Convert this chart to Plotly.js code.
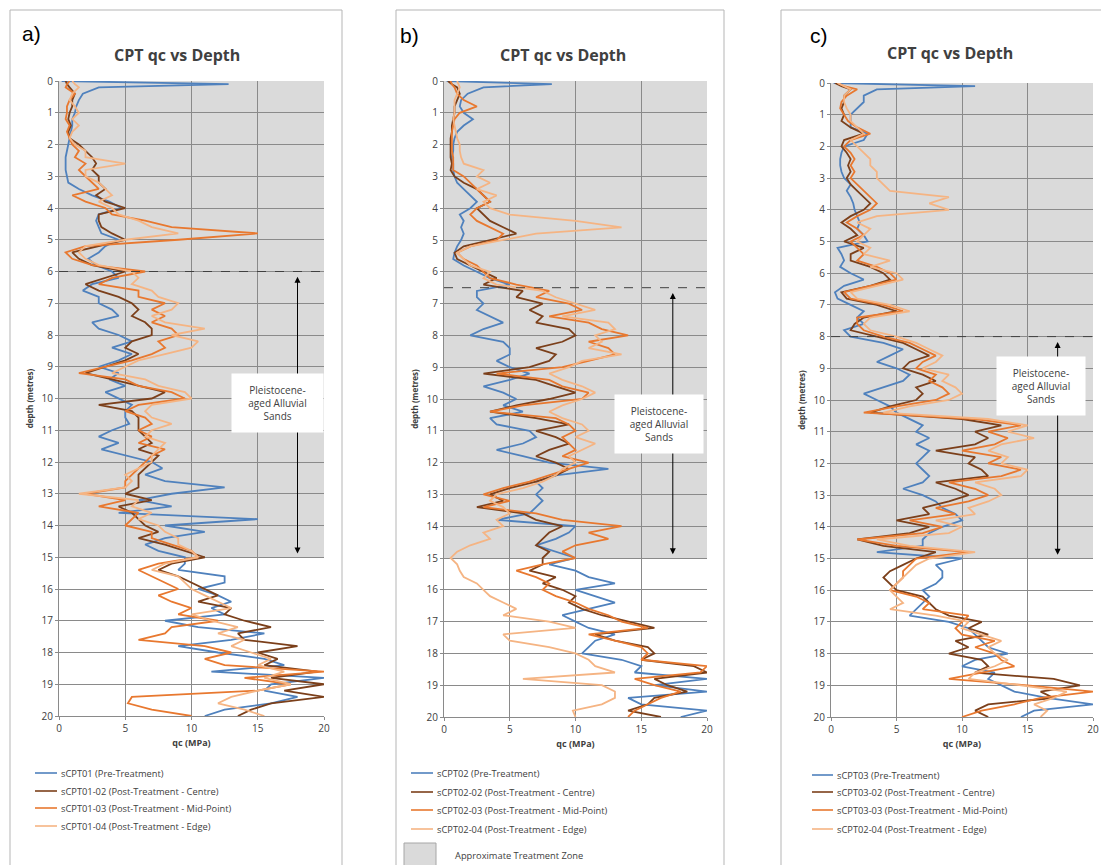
<!DOCTYPE html>
<html>
<head>
<meta charset="utf-8">
<script src="https://cdn.plot.ly/plotly-3.0.1.min.js"></script>
<style>html,body{margin:0;padding:0;background:#fff;}#chart{width:1101px;height:865px;}</style>
</head>
<body>
<div id="chart"></div>
<script>
// ---- Depth (metres), shared by all profiles ----
const depth = [0,0.1,0.2,0.4,0.6,0.8,1,1.2,1.4,1.6,1.8,
  2,2.2,2.4,2.6,2.8,3,3.2,3.4,3.6,3.8,
  4,4.2,4.4,4.6,4.8,5,5.2,5.4,5.6,5.8,
  6,6.2,6.4,6.6,6.8,7,7.2,7.4,7.6,7.8,
  8,8.2,8.4,8.6,8.8,9,9.2,9.4,9.6,9.8,
  10,10.2,10.4,10.6,10.8,11,11.2,11.4,11.6,11.8,
  12,12.2,12.4,12.6,12.8,13,13.2,13.4,13.6,13.8,
  14,14.2,14.4,14.6,14.8,15,15.2,15.4,15.6,15.8,
  16,16.2,16.4,16.6,16.8,17,17.2,17.4,17.6,17.8,
  18,18.2,18.4,18.6,18.8,19,19.2,19.4,19.6,19.8,
  20];

// ---- Panel a) qc (MPa) ----
const a_pre = [0.2,12.8,3.0,1.8,1.5,1.3,1.2,1.0,1.0,0.9,0.8,
  0.7,0.6,0.5,0.5,0.5,0.6,0.7,1.5,2.5,3.8,
  4.7,3.0,2.8,3.0,3.2,4.5,3.5,3.0,2.2,2.8,
  4.0,4.5,2.5,1.8,3.0,3.0,4.0,4.5,2.5,3.0,
  4.5,5.5,4.0,5.5,4.5,3.0,4.5,3.8,5.0,3.5,
  4.5,5.5,5.0,5.0,5.3,4.0,3.0,4.5,3.2,5.0,
  7.0,7.8,6.5,8.0,12.5,8.5,6.0,8.5,4.5,15.0,
  8.0,11.0,8.0,6.5,7.5,9.5,9.5,9.0,12.5,12.5,
  10.5,12.0,13.0,11.5,12.5,8.0,10.5,15.5,13.0,9.0,
  12.0,15.5,17.0,11.5,20.0,16.0,15.5,18.0,16.0,12.5,
  11.0];
const a_centre = [0.5,0.6,0.8,1.2,1.0,1.0,0.8,0.7,0.9,0.7,0.8,
  1.5,2.0,2.5,2.8,2.5,3.0,3.0,3.5,2.8,3.5,
  5.0,3.0,3.0,3.2,4.0,5.0,3.0,1.0,1.5,2.5,
  5.0,3.5,2.0,3.0,4.5,5.5,6.0,5.5,6.5,7.0,
  7.0,5.5,5.0,6.0,5.0,3.5,2.0,4.0,6.0,8.0,
  7.0,3.0,5.5,6.0,6.0,6.0,6.5,7.0,6.0,7.5,
  7.0,6.5,6.0,6.0,6.0,5.0,7.0,4.5,5.5,6.0,
  6.5,7.5,6.0,8.0,9.5,11.0,8.5,7.5,9.0,10.0,
  11.0,12.0,10.5,13.0,12.5,14.0,16.0,13.5,14.0,18.0,
  15.0,16.5,15.5,19.5,16.0,20.0,17.0,20.0,16.0,14.5,
  13.5];
const a_mid = [0.8,0.6,0.5,1.2,0.8,0.6,0.6,0.5,0.8,0.6,0.8,
  1.0,1.5,1.2,2.0,1.5,2.0,2.5,3.0,1.0,2.0,
  3.5,4.0,6.5,8.5,15.0,9.0,2.0,0.5,1.0,2.5,
  6.5,4.0,3.0,6.0,6.0,8.0,7.0,8.0,7.0,8.5,
  9.0,7.5,8.0,7.0,5.5,3.5,1.5,5.0,6.0,8.5,
  9.5,6.0,5.0,6.5,7.0,6.0,7.0,6.0,8.0,7.0,
  6.5,6.0,5.5,5.0,5.0,2.0,5.0,3.0,6.0,5.5,
  5.0,7.0,7.0,8.5,10.0,10.5,7.5,6.0,7.0,8.0,
  9.0,7.5,8.5,10.0,9.0,12.0,8.5,8.0,6.0,11.0,
  13.0,11.0,12.5,20.0,14.0,17.5,15.0,5.5,5.2,7.0,
  10.0];
const a_edge = [1.0,1.2,1.5,1.0,0.8,1.2,1.5,1.0,1.5,1.0,0.8,
  1.2,2.0,2.0,5.0,2.0,2.0,3.0,3.5,4.0,3.0,
  4.0,4.5,6.0,7.0,9.0,5.0,2.0,1.5,2.0,3.0,
  5.5,6.0,5.5,7.0,7.5,9.0,8.5,7.0,8.0,11.0,
  8.5,10.5,10.0,8.0,6.0,5.0,4.0,6.5,7.5,9.5,
  10.0,7.0,6.5,7.0,8.5,7.0,6.5,8.0,7.5,7.0,
  7.0,6.0,5.0,5.5,5.0,1.5,6.0,5.5,7.0,6.0,
  7.5,8.0,9.0,9.0,10.0,10.5,8.0,7.0,9.0,9.5,
  10.0,11.0,12.0,13.0,10.0,11.5,13.5,12.0,14.0,13.0,
  14.5,16.0,15.0,17.0,15.5,17.5,15.0,13.0,12.0,14.0,
  15.5];

// ---- Panel b) qc (MPa) ----
const b_pre = [0.2,8.2,3.0,1.8,1.3,1.2,1.5,2.2,1.5,1.0,0.8,
  0.7,0.7,0.6,0.7,0.7,0.8,1.0,1.5,2.0,2.5,
  2.0,1.2,1.5,1.3,1.5,1.3,1.0,0.8,0.7,1.5,
  2.5,3.5,5.0,2.5,2.5,3.0,2.5,3.5,4.5,3.0,
  2.0,4.5,5.0,5.0,4.0,5.0,6.5,5.0,3.0,4.5,
  5.5,4.5,6.0,3.5,4.0,6.5,7.0,6.0,4.0,6.0,
  8.0,12.5,8.5,7.0,7.5,7.0,7.5,7.0,6.5,4.0,
  10.0,9.5,8.5,7.0,8.5,10.0,8.0,10.0,11.0,13.0,
  10.0,11.5,13.0,11.0,9.0,10.0,11.0,13.0,11.5,11.0,
  10.5,13.5,15.0,14.5,20.0,16.0,20.0,14.0,15.0,20.0,
  18.0];
const b_centre = [0.3,0.6,1.0,1.2,1.0,0.8,0.8,0.7,0.6,0.6,0.5,
  0.5,0.5,0.5,0.6,0.5,0.8,1.5,2.5,3.0,3.5,
  2.5,3.0,3.5,4.5,5.5,3.5,1.5,0.8,1.0,2.0,
  3.0,4.0,3.0,6.0,5.5,7.5,6.5,7.5,7.0,9.5,
  10.0,9.0,7.0,8.5,8.0,6.5,3.0,7.0,8.5,10.0,
  8.0,5.5,3.5,7.0,9.5,7.0,8.5,9.5,8.0,7.0,
  8.5,9.5,8.5,7.0,5.0,3.5,4.5,2.5,6.0,7.0,
  9.0,8.0,7.5,7.0,8.0,7.5,7.5,6.5,8.5,7.5,
  9.0,10.0,9.5,10.5,12.0,14.0,16.0,11.5,13.0,15.5,
  16.0,15.0,19.0,20.0,16.0,17.0,18.5,16.0,15.5,14.0,
  16.5];
const b_mid = [0.5,0.6,0.8,1.0,1.5,2.5,1.2,0.8,0.7,0.6,0.6,
  0.6,0.6,0.7,0.7,0.7,1.5,2.0,2.5,3.0,3.5,
  2.5,2.0,2.5,3.5,4.5,4.0,2.0,1.0,1.5,2.5,
  3.0,3.5,5.5,8.0,7.0,9.5,10.5,8.0,11.0,12.0,
  14.0,11.0,12.5,13.0,11.0,9.0,4.0,8.0,9.0,11.0,
  10.5,6.0,3.5,8.5,9.5,10.0,9.0,9.5,10.0,9.0,
  11.0,9.5,8.0,6.5,4.5,3.0,5.0,3.0,7.0,9.0,
  13.5,11.0,12.5,10.0,9.0,10.0,7.5,5.5,7.0,8.0,
  7.5,8.5,10.0,11.0,12.5,13.5,15.5,11.0,13.0,15.0,
  15.5,15.0,20.0,19.5,14.5,16.0,18.0,16.5,15.5,14.5,
  14.0];
const b_edge = [1.0,1.1,1.2,1.0,0.8,0.8,0.8,0.7,0.8,0.9,1.0,
  1.2,1.2,1.3,1.5,3.0,2.5,3.5,2.5,4.0,3.0,
  3.5,5.0,10.0,13.5,7.0,4.5,2.0,1.0,1.5,2.0,
  3.5,3.0,4.0,7.5,8.5,10.0,11.5,9.0,12.5,13.0,
  11.5,12.0,11.0,13.5,10.5,9.5,8.0,9.0,10.5,11.5,
  10.5,9.0,8.0,9.0,10.5,11.0,10.0,11.5,10.5,9.5,
  10.0,9.0,8.5,7.5,6.0,4.0,3.5,4.5,5.0,4.0,
  4.5,3.0,3.5,2.0,1.0,0.5,1.0,1.2,1.5,2.5,
  3.0,3.5,4.5,5.5,4.5,8.0,10.0,4.5,5.0,8.0,
  10.0,11.0,11.5,13.0,6.0,12.0,13.0,13.0,12.0,9.8,
  10.0];

// ---- Panel c) qc (MPa) ----
const c_pre = [0.2,11.0,3.5,2.5,2.5,2.0,1.5,1.5,1.5,2.8,2.5,
  1.0,0.8,0.7,0.7,0.8,1.0,1.5,1.2,1.5,1.7,
  1.8,2.0,2.2,2.0,2.5,2.8,0.5,0.8,1.0,0.7,
  1.5,2.5,1.0,0.3,0.5,1.5,2.5,2.0,2.5,1.0,
  1.5,4.0,5.5,4.5,3.5,5.0,6.0,5.5,4.0,2.5,
  3.5,4.5,5.0,6.0,7.0,6.5,7.5,6.5,7.5,7.0,
  6.5,7.0,7.5,7.0,5.5,7.0,8.0,8.5,9.5,10.0,
  8.5,7.5,7.0,7.0,3.5,10.0,8.0,8.5,8.5,8.0,
  7.0,7.5,7.0,6.5,6.0,9.0,10.5,11.0,11.5,12.0,
  13.5,11.0,10.0,12.5,12.0,13.0,14.0,16.5,20.0,15.5,
  14.5];
const c_centre = [0.3,0.8,1.5,1.0,1.0,0.8,1.0,0.8,1.5,2.5,1.0,
  0.8,1.2,1.5,1.3,1.5,1.2,1.5,2.0,2.5,3.0,
  2.5,1.5,0.8,1.5,2.0,1.0,2.5,1.5,1.5,3.0,
  4.0,4.5,3.0,0.8,1.2,3.5,5.0,2.5,1.8,1.5,
  3.5,5.5,6.5,7.5,6.0,5.5,7.0,8.0,6.5,7.0,
  6.5,4.5,3.0,10.0,13.0,11.0,12.0,11.0,8.0,11.0,
  10.5,11.5,12.0,8.0,9.5,10.5,9.0,7.0,7.5,5.0,
  7.5,6.0,2.0,4.0,8.0,6.5,5.5,4.5,4.0,4.5,
  5.0,7.0,7.5,8.0,9.0,11.5,10.5,12.0,9.5,10.5,
  9.0,11.5,12.0,11.0,17.0,19.0,16.0,17.0,12.0,11.0,
  12.0];
const c_mid = [0.5,1.0,2.0,1.2,0.8,0.7,1.0,1.3,2.0,3.0,1.5,
  1.0,1.5,1.8,1.5,1.8,1.5,2.0,2.5,3.0,3.5,
  3.0,2.0,1.2,2.0,2.5,1.5,2.0,2.5,2.0,3.5,
  4.5,5.0,3.0,1.0,1.5,4.0,5.5,2.0,2.0,2.5,
  4.0,6.0,7.0,8.0,7.0,6.5,8.0,7.5,8.5,9.0,
  8.0,5.0,2.5,11.0,14.5,12.0,13.5,12.5,10.0,13.0,
  12.0,14.5,13.0,9.0,11.0,12.0,10.5,8.0,9.5,6.0,
  8.5,7.0,2.0,5.0,10.5,6.5,6.0,5.5,5.5,5.0,
  4.5,6.5,7.5,7.0,10.5,10.0,9.5,10.0,12.5,11.0,
  12.5,13.0,14.0,11.5,9.0,15.0,20.0,16.0,14.0,11.5,
  10.0];
const c_edge = [0.5,1.0,1.5,1.0,1.0,1.2,1.5,1.5,2.0,2.5,1.5,
  2.0,2.5,3.0,3.0,3.5,3.5,4.0,4.5,9.0,7.5,
  9.0,3.5,2.0,3.0,2.5,2.0,3.0,2.5,4.5,3.0,
  5.0,5.5,3.5,1.5,2.0,4.5,6.0,3.0,2.5,3.0,
  5.0,6.5,7.5,8.5,8.0,7.0,9.0,8.5,9.5,10.0,
  9.0,6.0,4.0,12.0,15.0,13.5,15.5,13.0,12.0,13.5,
  13.0,15.0,14.5,11.0,12.5,13.0,12.0,10.5,11.0,8.0,
  10.0,9.0,3.5,6.0,11.0,7.5,6.5,6.0,5.5,5.0,
  4.5,5.0,5.5,4.5,8.0,10.5,10.0,11.5,13.0,12.0,
  12.5,13.5,12.5,11.0,10.5,14.5,18.0,17.0,15.5,16.5,
  16.0];

// ---- Labels ----
const panelLabels = ['a)', 'b)', 'c)'];
const chartTitle = 'CPT qc vs Depth';
const yTitle = 'depth (metres)';
const xTitle = 'qc (MPa)';
const xTicks = [0, 5, 10, 15, 20];
const yTicks = [0,1,2,3,4,5,6,7,8,9,10,11,12,13,14,15,16,17,18,19,20];
const legendNames = [
  ['sCPT01 (Pre-Treatment)','sCPT01-02 (Post-Treatment - Centre)','sCPT01-03 (Post-Treatment - Mid-Point)','sCPT01-04 (Post-Treatment - Edge)'],
  ['sCPT02 (Pre-Treatment)','sCPT02-02 (Post-Treatment - Centre)','sCPT02-03 (Post-Treatment - Mid-Point)','sCPT02-04 (Post-Treatment - Edge)'],
  ['sCPT03 (Pre-Treatment)','sCPT03-02 (Post-Treatment - Centre)','sCPT03-03 (Post-Treatment - Mid-Point)','sCPT02-04 (Post-Treatment - Edge)']
];
const zoneLabel = 'Pleistocene-<br>aged Alluvial<br>Sands';
const treatmentZoneLabel = 'Approximate Treatment Zone';
const treatmentZoneBottom = [15, 15, 15];
const sandTop = [6, 6.5, 8];

// ---- Styling / layout (pixels) ----
const W = 1101, H = 865;
const colors = ['#4f81bd', '#7b3f1a', '#e8782f', '#f5b483'];
const panelData = [
  [a_pre, a_centre, a_mid, a_edge],
  [b_pre, b_centre, b_mid, b_edge],
  [c_pre, c_centre, c_mid, c_edge]
];
const plotPx = [
  {x0: 59, x1: 324, y0: 81, y1: 716},
  {x0: 444, x1: 707, y0: 81, y1: 717},
  {x0: 831, x1: 1093, y0: 83, y1: 717}
];
const framePx = [[10, 342], [396, 724], [781, 1110]];
const titleX = [177, 563, 950];
const labelPos = [[20, 33], [398, 35], [808, 35]];
const legendPx = [
  {lx0: 35, lx1: 57, tx: 59, ys: [773, 791, 808, 826]},
  {lx0: 411, lx1: 433, tx: 435, ys: [773, 792, 810, 829]},
  {lx0: 812, lx1: 833, tx: 835, ys: [775, 792, 810, 829]}
];
const arrowX = [18.0, 17.4, 17.3];
const boxPx = [
  {x0: 232, x1: 323, y0: 374, y1: 432},
  {x0: 615, x1: 703, y0: 395, y1: 453},
  {x0: 997, x1: 1085, y0: 357, y1: 415}
];

const px = x => x / W;
const py = y => 1 - y / H;
const FONT = 'Open Sans, Noto Sans, Liberation Sans, sans-serif';

const traces = [];
const layout = {
  width: W, height: H,
  margin: {l: 0, r: 0, t: 0, b: 0},
  paper_bgcolor: '#ffffff',
  plot_bgcolor: '#ffffff',
  showlegend: false,
  font: {family: FONT, color: '#404040'},
  shapes: [],
  annotations: []
};

panelData.forEach((series, p) => {
  const sfx = p === 0 ? '' : String(p + 1);
  const xa = 'x' + sfx, ya = 'y' + sfx;
  series.forEach((vals, i) => {
    traces.push({
      type: 'scatter', mode: 'lines',
      x: vals, y: depth,
      xaxis: xa, yaxis: ya,
      name: legendNames[p][i],
      line: {color: colors[i], width: 1.8},
      hoverinfo: 'skip'
    });
  });
  const P = plotPx[p];
  layout['xaxis' + sfx] = {
    domain: [px(P.x0), px(P.x1)], anchor: ya,
    range: [0, 20], tickvals: xTicks, ticktext: xTicks.map(String),
    showgrid: true, gridcolor: '#8a8a8a', gridwidth: 1,
    showline: true, linecolor: '#8a8a8a', zeroline: false,
    ticks: 'outside', ticklen: 3, tickcolor: '#8a8a8a',
    tickfont: {size: 10, color: '#404040', family: FONT},
    title: {text: xTitle, font: {size: 9, weight: 'bold', color: '#404040', family: FONT}, standoff: 5},
    fixedrange: true
  };
  layout['yaxis' + sfx] = {
    domain: [py(P.y1), py(P.y0)], anchor: xa,
    range: [20, 0], tickvals: yTicks, ticktext: yTicks.map(String),
    showgrid: true, gridcolor: '#8a8a8a', gridwidth: 1,
    showline: true, linecolor: '#8a8a8a', zeroline: false,
    ticks: 'outside', ticklen: 3, tickcolor: '#8a8a8a',
    tickfont: {size: 10, color: '#404040', family: FONT},
    title: {text: yTitle, font: {size: 8, weight: 'bold', color: '#404040', family: FONT}, standoff: 6},
    fixedrange: true
  };
  // Frame around the panel
  layout.shapes.push({type: 'rect', xref: 'paper', yref: 'paper',
    x0: px(framePx[p][0]), x1: px(framePx[p][1]), y0: -0.02, y1: py(10),
    line: {color: '#b5b5b5', width: 1}, fillcolor: 'rgba(0,0,0,0)', layer: 'below'});
  // Approximate treatment zone (grey)
  layout.shapes.push({type: 'rect', xref: xa, yref: ya,
    x0: 0, x1: 20, y0: 0, y1: treatmentZoneBottom[p],
    fillcolor: '#dadada', line: {width: 0}, layer: 'below'});
  // Dashed line at top of sands
  layout.shapes.push({type: 'line', xref: xa, yref: ya,
    x0: 0, x1: 20, y0: sandTop[p], y1: sandTop[p],
    line: {color: '#404040', width: 1, dash: 'dash'}, layer: 'above'});
  // Double-headed arrow
  layout.annotations.push({xref: xa, yref: ya, axref: xa, ayref: ya,
    x: arrowX[p], y: treatmentZoneBottom[p] - 0.12, ax: arrowX[p], ay: sandTop[p] + 0.12,
    text: '', showarrow: true, arrowhead: 2, startarrowhead: 2, arrowside: 'end+start',
    arrowsize: 1.2, startarrowsize: 1.2, arrowwidth: 1, arrowcolor: '#000000'});
  // White label box
  const B = boxPx[p];
  layout.annotations.push({xref: 'paper', yref: 'paper',
    x: px((B.x0 + B.x1) / 2), y: py((B.y0 + B.y1) / 2), xanchor: 'center', yanchor: 'middle',
    text: zoneLabel, showarrow: false, align: 'center',
    width: B.x1 - B.x0, height: B.y1 - B.y0, borderpad: 0,
    bgcolor: '#ffffff', font: {size: 10, color: '#404040', family: FONT}});
  // Title
  layout.annotations.push({xref: 'paper', yref: 'paper',
    x: px(titleX[p]), y: py(p === 2 ? 53 : 55), xanchor: 'center', yanchor: 'middle',
    text: chartTitle, showarrow: false,
    font: {size: 16, weight: 'bold', color: '#404040', family: FONT}});
  // Panel label
  layout.annotations.push({xref: 'paper', yref: 'paper',
    x: px(labelPos[p][0]), y: py(labelPos[p][1]), xanchor: 'left', yanchor: 'middle',
    text: panelLabels[p], showarrow: false,
    font: {size: 21, color: '#000000', family: 'Liberation Sans, Arial, sans-serif'}});
  // Legend
  const L = legendPx[p];
  legendNames[p].forEach((nm, i) => {
    layout.shapes.push({type: 'line', xref: 'paper', yref: 'paper',
      x0: px(L.lx0), x1: px(L.lx1), y0: py(L.ys[i]), y1: py(L.ys[i]),
      line: {color: colors[i], width: 1.6}});
    layout.annotations.push({xref: 'paper', yref: 'paper',
      x: px(L.tx), y: py(L.ys[i]), xanchor: 'left', yanchor: 'middle',
      text: nm, showarrow: false, font: {size: 9.3, color: '#404040', family: FONT}});
  });
});

// Treatment-zone legend swatch (panel b)
layout.shapes.push({type: 'rect', xref: 'paper', yref: 'paper',
  x0: px(404), x1: px(436), y0: py(872), y1: py(843),
  fillcolor: '#dadada', line: {color: '#a6a6a6', width: 1}});
layout.annotations.push({xref: 'paper', yref: 'paper',
  x: px(453), y: py(855), xanchor: 'left', yanchor: 'middle',
  text: treatmentZoneLabel, showarrow: false,
  font: {size: 9.3, color: '#404040', family: FONT}});

Plotly.newPlot('chart', traces, layout, {staticPlot: true, displayModeBar: false});
</script>
</body>
</html>
